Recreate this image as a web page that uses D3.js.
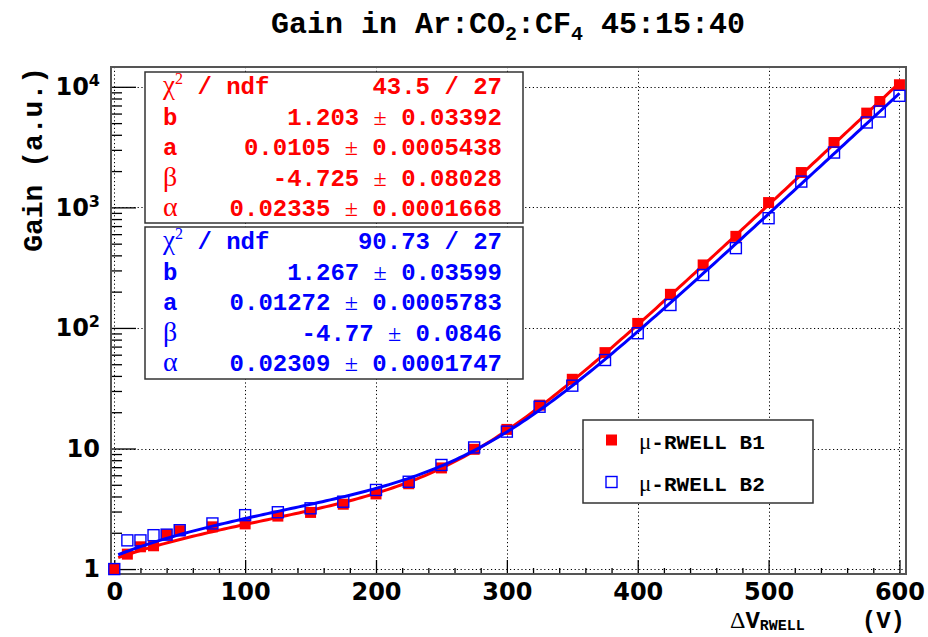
<!DOCTYPE html>
<html>
<head>
<meta charset="utf-8">
<title>Gain in Ar:CO2:CF4 45:15:40</title>
<script src="https://cdn.jsdelivr.net/npm/d3@7"></script>
<style>
  html, body { margin: 0; padding: 0; background: #fff; }
  svg { display: block; }
  .mono { font-family: "Liberation Mono", "DejaVu Sans Mono", monospace; font-weight: bold; }
  .num { font-family: "DejaVu Sans", sans-serif; font-weight: bold; }
  .greek { font-family: "Liberation Serif", "DejaVu Serif", serif; font-weight: normal; }
</style>
</head>
<body>
<div id="chart"></div>
<script>
  var voltages = [0, 10, 20, 30, 40, 50, 75, 100, 125, 150, 175, 200, 225, 250, 275,
                  300, 325, 350, 375, 400, 425, 450, 475, 500, 525, 550, 575, 585, 600];
  var gainB1 = [1.0, 1.33, 1.53, 1.56, 1.93, 2.08, 2.24, 2.37, 2.75, 2.95, 3.45, 4.2, 5.1, 6.9, 9.85,
                14.4, 22.9, 37.5, 62.4, 109, 190, 333, 575, 1096, 1945, 3450, 6050, 7550, 10400];
  var gainB2 = [1.0, 1.73, 1.73, 1.91, 1.93, 2.1, 2.39, 2.8, 2.96, 3.19, 3.62, 4.53, 5.3, 7.3, 10.2,
                13.8, 22.2, 33.2, 54.2, 90.4, 155, 275, 459, 813, 1637, 2850, 5060, 6240, 8420];

  // fit results: G = b + a*V + exp(beta + alpha*V)
  var paramNames = ["b", "a", "β", "α"];
  var fitB1 = [1.203, 0.0105, -4.725, 0.02335];
  var errB1 = ["0.03392", "0.0005438", "0.08028", "0.0001668"];
  var chi2B1 = "43.5 / 27";
  var fitB2 = [1.267, 0.01272, -4.77, 0.02309];
  var errB2 = ["0.03599", "0.0005783", "0.0846", "0.0001747"];
  var chi2B2 = "90.73 / 27";
  var fitRange = [3, 600];

  var xTicks = [0, 100, 200, 300, 400, 500, 600];
  var yTicks = [1, 10, 100, 1000, 10000];
  var legendLabels = ["μ-RWELL B1", "μ-RWELL B2"];

  var width = 928, height = 637;
  var frame = { left: 111, right: 906, top: 67, bottom: 574 };
  var red = "#ff0000", blue = "#0000ff";
  var markerSize = 11;

  var svg = d3.select("#chart").append("svg")
    .attr("width", width)
    .attr("height", height);

  var x = d3.scaleLinear().domain([-2.5, 605]).range([frame.left, frame.right]);
  var y = d3.scaleLog().domain([0.91, 14600]).range([frame.bottom, frame.top]);

  // grid
  var grid = svg.append("g")
    .attr("stroke", "#000")
    .attr("stroke-width", 1)
    .attr("stroke-dasharray", "1.2,2.6");
  grid.selectAll(".gx").data(xTicks).enter().append("line")
    .attr("x1", function(d) { return Math.round(x(d)) + 0.5; })
    .attr("x2", function(d) { return Math.round(x(d)) + 0.5; })
    .attr("y1", frame.top).attr("y2", frame.bottom);
  grid.selectAll(".gy").data(yTicks).enter().append("line")
    .attr("y1", function(d) { return Math.round(y(d)) + 0.5; })
    .attr("y2", function(d) { return Math.round(y(d)) + 0.5; })
    .attr("x1", frame.left).attr("x2", frame.right);

  // x axis: majors + minors
  var minorX = d3.range(0, 601, 20).filter(function(d) { return d % 100 !== 0; });
  var xAxis = svg.append("g")
    .attr("transform", "translate(0," + frame.bottom + ")")
    .call(d3.axisBottom(x).tickValues(xTicks).tickSize(-14).tickPadding(9).tickFormat(d3.format("d")));
  svg.append("g")
    .attr("transform", "translate(0," + frame.bottom + ")")
    .call(d3.axisBottom(x).tickValues(minorX).tickSize(-6).tickFormat(""));

  // y axis: decades + 2..9 minors
  var minorY = [];
  [1, 10, 100, 1000, 10000].forEach(function(dec) {
    for (var k = 2; k <= 9; k++) {
      var v = k * dec;
      if (v < 14600) minorY.push(v);
    }
  });
  var yAxis = svg.append("g")
    .attr("transform", "translate(" + frame.left + ",0)")
    .call(d3.axisLeft(y).tickValues(yTicks).tickSize(-25).tickPadding(11).tickFormat(""));
  svg.append("g")
    .attr("transform", "translate(" + frame.left + ",0)")
    .call(d3.axisLeft(y).tickValues(minorY).tickSize(-11).tickFormat(""));

  svg.selectAll(".domain").remove();
  svg.selectAll(".tick line").attr("stroke", "#000").attr("stroke-width", 1.3);
  xAxis.selectAll("text")
    .attr("class", "num")
    .attr("font-size", 24)
    .attr("fill", "#000");

  // y labels with exponents
  yAxis.selectAll(".tick text").each(function(d) {
    var t = d3.select(this)
      .attr("class", "num")
      .attr("font-size", 24)
      .attr("fill", "#000");
    var e = Math.round(Math.log10(d));
    if (e <= 1) {
      t.text(d);
    } else {
      t.text("10");
      t.append("tspan").attr("font-size", 16).attr("dy", "-0.55em").text(e);
    }
  });

  // frame
  svg.append("rect")
    .attr("x", frame.left).attr("y", frame.top)
    .attr("width", frame.right - frame.left).attr("height", frame.bottom - frame.top)
    .attr("fill", "none").attr("stroke", "#555").attr("stroke-width", 2);

  function gainFit(p, v) {
    return p[0] + p[1] * v + Math.exp(p[2] + p[3] * v);
  }
  var curveV = d3.range(fitRange[0], fitRange[1] + 0.01, 3);
  var line = function(p) {
    return d3.line()
      .x(function(v) { return x(v); })
      .y(function(v) { return y(gainFit(p, v)); })(curveV);
  };

  var plot = svg.append("g");

  // B1: filled red squares + fit
  plot.selectAll(".p1").data(voltages).enter().append("rect")
    .attr("x", function(d) { return x(d) - markerSize / 2; })
    .attr("y", function(d, i) { return y(gainB1[i]) - markerSize / 2; })
    .attr("width", markerSize).attr("height", markerSize)
    .attr("fill", red);
  plot.append("path").attr("d", line(fitB1))
    .attr("fill", "none").attr("stroke", red).attr("stroke-width", 3);

  // B2: open blue squares + fit
  plot.selectAll(".p2").data(voltages).enter().append("rect")
    .attr("x", function(d) { return x(d) - markerSize / 2; })
    .attr("y", function(d, i) { return y(gainB2[i]) - markerSize / 2; })
    .attr("width", markerSize).attr("height", markerSize)
    .attr("fill", "none").attr("stroke", blue).attr("stroke-width", 1.4);
  plot.append("path").attr("d", line(fitB2))
    .attr("fill", "none").attr("stroke", blue).attr("stroke-width", 3);

  // stat boxes
  function statBox(top, h, color, chi2, vals, errs) {
    var g = svg.append("g");
    g.append("rect")
      .attr("x", 145).attr("y", top).attr("width", 378).attr("height", h)
      .attr("fill", "#fff").attr("stroke", "#333").attr("stroke-width", 1.5);
    var base = top + 22, step = 30.5;
    var lab = g.append("text").attr("class", "mono").attr("font-size", 24)
      .attr("fill", color).attr("x", 163).attr("y", base);
    lab.append("tspan").attr("class", "greek").attr("font-size", 27).text("χ");
    lab.append("tspan").attr("class", "greek").attr("font-size", 16).attr("dy", -10).text("2");
    lab.append("tspan").attr("dy", 10).attr("xml:space", "preserve").text(" / ndf");
    g.append("text").attr("class", "mono").attr("font-size", 24).attr("fill", color)
      .attr("x", 502).attr("y", base).attr("text-anchor", "end").text(chi2);
    paramNames.forEach(function(n, i) {
      var yy = base + step * (i + 1);
      var isGreek = (n === "β" || n === "α");
      g.append("text").attr("class", isGreek ? "greek" : "mono")
        .attr("font-size", isGreek ? 28 : 24).attr("fill", color)
        .attr("x", 163).attr("y", yy).text(n);
      var t = g.append("text").attr("class", "mono").attr("font-size", 24).attr("fill", color)
        .attr("x", 502).attr("y", yy).attr("text-anchor", "end");
      t.append("tspan").text(String(vals[i]) + " ");
      t.append("tspan").attr("class", "greek").attr("font-size", 24).text("±");
      t.append("tspan").text(" " + errs[i]);
    });
  }
  statBox(72, 151, red, chi2B1, fitB1, errB1);
  statBox(227, 152, blue, chi2B2, fitB2, errB2);

  // legend
  var leg = svg.append("g");
  leg.append("rect")
    .attr("x", 583).attr("y", 420).attr("width", 230).attr("height", 83)
    .attr("fill", "#fff").attr("stroke", "#333").attr("stroke-width", 1.5);
  legendLabels.forEach(function(l, i) {
    var cy = 440 + i * 42;
    leg.append("rect")
      .attr("x", 611.5 - markerSize / 2).attr("y", cy - markerSize / 2)
      .attr("width", markerSize).attr("height", markerSize)
      .attr("fill", i === 0 ? red : "none")
      .attr("stroke", i === 0 ? "none" : blue)
      .attr("stroke-width", 1.4);
    var t = leg.append("text").attr("class", "mono").attr("font-size", 21).attr("fill", "#000")
      .attr("x", 639).attr("y", cy + 9);
    t.append("tspan").attr("class", "greek").attr("font-size", 23).text(l.charAt(0));
    t.append("tspan").text(l.slice(1));
  });

  // title
  var title = svg.append("text").attr("class", "mono").attr("font-size", 30)
    .attr("x", 508).attr("y", 33).attr("text-anchor", "middle").attr("fill", "#000");
  title.append("tspan").text("Gain in Ar:CO");
  title.append("tspan").attr("font-size", 20).attr("dy", 7).text("2");
  title.append("tspan").attr("dy", -7).text(":CF");
  title.append("tspan").attr("font-size", 20).attr("dy", 7).text("4");
  title.append("tspan").attr("dy", -7).attr("xml:space", "preserve").text(" 45:15:40");

  // axis titles
  svg.append("text").attr("class", "mono").attr("font-size", 28).attr("fill", "#000")
    .attr("transform", "translate(42," + frame.top + ") rotate(-90)")
    .attr("text-anchor", "end")
    .text("Gain (a.u.)");

  var xt = svg.append("text").attr("class", "mono").attr("font-size", 24).attr("fill", "#000")
    .attr("x", 730).attr("y", 628);
  xt.append("tspan").attr("class", "greek").attr("font-size", 24).text("Δ");
  xt.append("tspan").text("V");
  xt.append("tspan").attr("font-size", 15).attr("dy", 2).text("RWELL");
  svg.append("text").attr("class", "mono").attr("font-size", 24).attr("fill", "#000")
    .attr("x", 905).attr("y", 628).attr("text-anchor", "end").text("(V)");
</script>
</body>
</html>
